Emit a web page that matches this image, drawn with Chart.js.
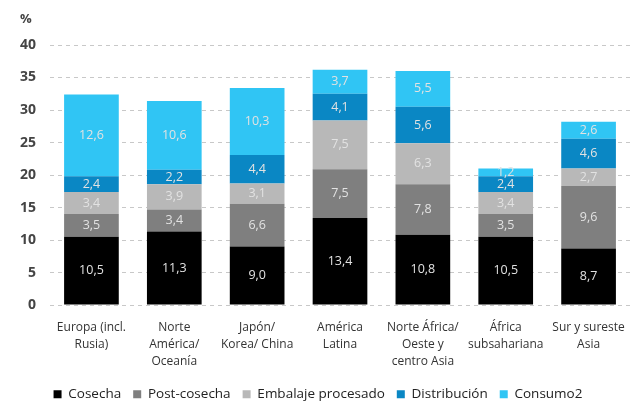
<!DOCTYPE html>
<html>
<head>
<meta charset="utf-8">
<script src="https://cdn.jsdelivr.net/npm/chart.js@4/dist/chart.umd.min.js"></script>
<style>
  html, body { margin: 0; padding: 0; background: #fff; }
  #wrap { width: 638px; height: 403px; position: relative; }
</style>
</head>
<body>
<div id="wrap"><canvas id="chart"></canvas></div>
<script>
// regiones
const regiones = [
  ['Europa (incl.', 'Rusia)'],
  ['Norte', 'América/', 'Oceanía'],
  ['Japón/', 'Korea/ China'],
  ['América', 'Latina'],
  ['Norte África/', 'Oeste y', 'centro Asia'],
  ['África', 'subsahariana'],
  ['Sur y sureste', 'Asia'],
]

// % de pérdidas por etapa
const cosecha      = [10.5, 11.3, 9.0, 13.4, 10.8, 10.5, 8.7]
const postCosecha  = [3.5, 3.4, 6.6, 7.5, 7.8, 3.5, 9.6]
const embalaje     = [3.4, 3.9, 3.1, 7.5, 6.3, 3.4, 2.7]
const distribucion = [2.4, 2.2, 4.4, 4.1, 5.6, 2.4, 4.6]
const consumo      = [12.6, 10.6, 10.3, 3.7, 5.5, 1.2, 2.6]

const yTicks = [0, 5, 10, 15, 20, 25, 30, 35, 40]

const FONT = '"Open Sans", "Noto Sans", sans-serif'

// etiquetas con el valor dentro de cada segmento
const segmentLabels = {
  id: 'segmentLabels',
  afterDatasetsDraw(chart) {
    const ctx = chart.ctx
    ctx.save()
    ctx.font = `12.5px ${FONT}`
    ctx.fillStyle = '#e2e2e2'
    ctx.textAlign = 'center'
    ctx.textBaseline = 'middle'
    chart.data.datasets.forEach((ds, i) => {
      chart.getDatasetMeta(i).data.forEach((bar, j) => {
        const v = ds.data[j]
        const mid = (bar.y + bar.base) / 2
        ctx.fillText(v.toFixed(1).replace('.', ','), bar.x, mid)
      })
    })
    // unidad del eje
    ctx.font = `bold 13px ${FONT}`
    ctx.fillStyle = '#444'
    ctx.textAlign = 'left'
    ctx.fillText('%', 20, 19)
    ctx.restore()
  },
}

const ctx = document.getElementById('chart').getContext('2d')
new Chart(ctx, {
  type: 'bar',
  data: {
    labels: regiones,
    datasets: [
      { label: 'Cosecha', data: cosecha, backgroundColor: '#000000' },
      { label: 'Post-cosecha', data: postCosecha, backgroundColor: '#7f7f7f' },
      { label: 'Embalaje procesado', data: embalaje, backgroundColor: '#b8b8b8' },
      { label: 'Distribución', data: distribucion, backgroundColor: '#0a87c4' },
      { label: 'Consumo2', data: consumo, backgroundColor: '#30c5f4' },
    ],
  },
  options: {
    responsive: true,
    maintainAspectRatio: false,
    animation: false,
    datasets: { bar: { barPercentage: 0.66, categoryPercentage: 1.0 } },
    layout: { padding: { top: 45, right: 8, left: 6, bottom: -8 } },
    plugins: {
      legend: {
        position: 'bottom',
        labels: {
          boxWidth: 8,
          boxHeight: 8,
          padding: 12,
          color: '#222',
          font: { family: FONT, size: 13.5 },
        },
      },
      tooltip: { enabled: false },
    },
    scales: {
      x: {
        stacked: true,
        grid: { display: false },
        border: { display: false },
        ticks: {
          color: '#333',
          padding: 6,
          font: { family: FONT, size: 12, lineHeight: 1.4 },
          maxRotation: 0,
          autoSkip: false,
        },
      },
      y: {
        stacked: true,
        min: 0,
        max: 40,
        afterBuildTicks: axis => { axis.ticks = yTicks.map(v => ({ value: v })) },
        grid: { color: '#c8c8c8', drawTicks: false },
        border: { display: false, dash: [4, 4] },
        ticks: {
          color: '#444',
          padding: 14,
          font: { family: FONT, size: 14, weight: 'bold' },
        },
      },
    },
  },
  plugins: [segmentLabels],
})
</script>
</body>
</html>
